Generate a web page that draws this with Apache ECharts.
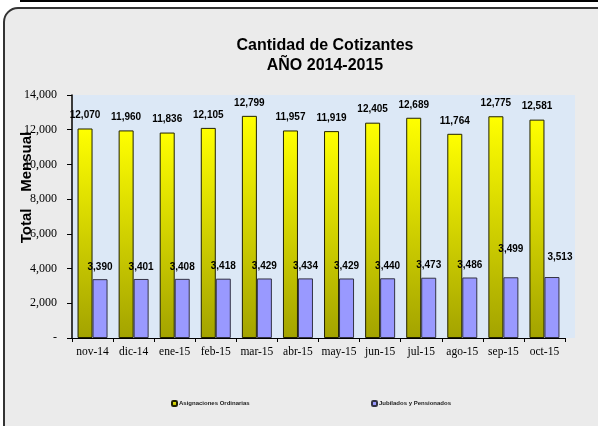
<!DOCTYPE html>
<html>
<head>
<meta charset="utf-8">
<script src="https://cdn.jsdelivr.net/npm/echarts@6/dist/echarts.min.js"></script>
<style>
    html, body { margin: 0; padding: 0; background: #fff; }
    #chart { width: 598px; height: 426px; }
</style>
</head>
<body>
<div id="chart"></div>
<script>
var months = ['nov-14', 'dic-14', 'ene-15', 'feb-15', 'mar-15', 'abr-15', 'may-15', 'jun-15', 'jul-15', 'ago-15', 'sep-15', 'oct-15']
var asignaciones = [12070, 11960, 11836, 12105, 12799, 11957, 11919, 12405, 12689, 11764, 12775, 12581]
var jubilados = [3390, 3401, 3408, 3418, 3429, 3434, 3429, 3440, 3473, 3486, 3499, 3513]
var yTicks = [0, 2000, 4000, 6000, 8000, 10000, 12000, 14000]

function fmt(v) {
    return v.toString().replace(/\B(?=(\d{3})+(?!\d))/g, ',')
}

var chart = echarts.init(document.getElementById('chart'))

// the last two purple labels sit higher in the original
var jubData = jubilados.map(function (v, i) {
    var item = {value: v}
    if (i == 10) item.label = {offset: [0, -16]}
    if (i == 11) item.label = {offset: [8, -8]}
    return item
})

var option = {
    animation: false,
    backgroundColor: '#ffffff',
    graphic: [
        {type: 'line', shape: {x1: 20, y1: 1, x2: 598, y2: 1}, style: {stroke: '#000', lineWidth: 2}, z: 0},
        {
            type: 'rect', shape: {x: 4, y: 8, width: 620, height: 440, r: 14},
            style: {fill: '#ebebeb', stroke: '#333', lineWidth: 2}, z: 0
        },
        {type: 'rect', shape: {x: 73, y: 95, width: 502, height: 243}, style: {fill: '#dce8f6'}, z: 0}
    ],
    title: {
        text: 'Cantidad de Cotizantes\nAÑO 2014-2015',
        left: 320,
        textAlign: 'center',
        top: 31,
        textStyle: {fontFamily: 'Liberation Sans', fontWeight: 'bold', fontSize: 16, lineHeight: 20, color: '#000'}
    },
    legend: [
        {
            data: ['Asignaciones Ordinarias'], left: 166, top: 395,
            itemWidth: 5, itemHeight: 5,
            textStyle: {fontFamily: 'Liberation Sans', fontSize: 6, fontWeight: 'bold', color: '#222', padding: [0, 0, 0, -3]}
        },
        {
            data: ['Jubilados y Pensionados'], left: 366, top: 395,
            itemWidth: 5, itemHeight: 5,
            textStyle: {fontFamily: 'Liberation Sans', fontSize: 6, fontWeight: 'bold', color: '#222', padding: [0, 0, 0, -3]}
        }
    ],
    grid: {left: 72, right: 33, top: 95, bottom: 88, outerBoundsMode: 'none'},
    xAxis: {
        type: 'category',
        data: months,
        axisLine: {lineStyle: {color: '#000', width: 1}},
        axisTick: {show: true, length: 4, lineStyle: {color: '#000'}},
        axisLabel: {interval: 0, fontFamily: 'Liberation Serif', fontSize: 11.5, color: '#000', margin: 8}
    },
    yAxis: {
        type: 'value',
        min: 0,
        max: 14000,
        interval: 2000,
        name: 'Total    Mensual',
        nameLocation: 'middle',
        nameRotate: 90,
        nameGap: 38,
        nameMoveOverlap: false,
        nameTextStyle: {fontFamily: 'Liberation Sans', fontWeight: 'bold', fontSize: 15, color: '#000', padding: [0, 0, 0, 58]},
        axisLine: {show: true, lineStyle: {color: '#000', width: 1.5}},
        axisTick: {show: true, length: 5, lineStyle: {color: '#000'}},
        splitLine: {show: false},
        axisLabel: {
            fontFamily: 'Liberation Serif', fontSize: 12, color: '#000', margin: 15,
            formatter: function (v) {
                return yTicks.indexOf(v) == 0 ? '-' : fmt(v)
            }
        }
    },
    series: [
        {
            name: 'Asignaciones Ordinarias',
            type: 'bar',
            data: asignaciones,
            barWidth: 15,
            barGap: '0%',
            itemStyle: {
                color: new echarts.graphic.LinearGradient(0, 0, 0, 1, [
                    {offset: 0, color: '#ffff00'},
                    {offset: 1, color: '#a3a300'}
                ]),
                borderColor: '#222200',
                borderWidth: 1
            },
            label: {
                show: true, position: 'top', distance: 8,
                fontFamily: 'Liberation Sans', fontWeight: 'bold', fontSize: 10, color: '#000',
                formatter: function (p) { return fmt(p.value) }
            }
        },
        {
            name: 'Jubilados y Pensionados',
            type: 'bar',
            data: jubData,
            barWidth: 15,
            itemStyle: {color: '#9999ff', borderColor: '#333344', borderWidth: 1},
            label: {
                show: true, position: 'top', distance: 7,
                fontFamily: 'Liberation Sans', fontWeight: 'bold', fontSize: 10, color: '#000',
                formatter: function (p) { return fmt(p.value) }
            }
        }
    ]
}

chart.setOption(option)
</script>
</body>
</html>
